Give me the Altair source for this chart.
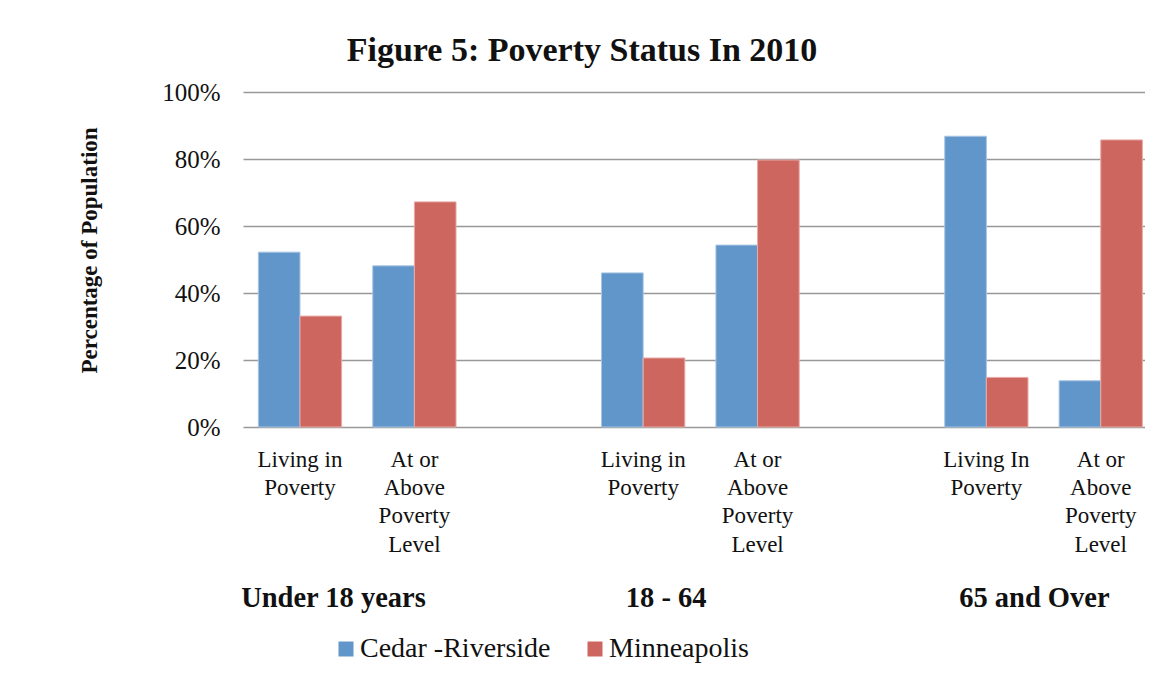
import altair as alt
import pandas as pd

# Slots along the x axis (prefix keeps them unique; empty slots separate the groups)
slots = [
    "a:Living in|Poverty",
    "b:At or|Above|Poverty|Level",
    "c:",
    "d:Living in|Poverty",
    "e:At or|Above|Poverty|Level",
    "f:",
    "g:Living In|Poverty",
    "h:At or|Above|Poverty|Level",
]
bar_slots = [slots[0], slots[1], slots[3], slots[4], slots[6], slots[7]]
series = ["Cedar -Riverside", "Minneapolis"]
cedar = [0.522, 0.481, 0.460, 0.543, 0.868, 0.138]
minneapolis = [0.331, 0.672, 0.206, 0.797, 0.148, 0.857]
groups = ["Under 18 years", "18 - 64", "65 and Over"]
group_slots = [slots[0], slots[3], slots[6]]
group_dx = [33.5, 23, 48]
y_ticks = [0, 0.2, 0.4, 0.6, 0.8, 1.0]
colors = ["#6096C9", "#CC665F"]
edge_colors = ["#A9C4E4", "#E8ABA6"]

rows = []
for s, v in zip(bar_slots, cedar):
    rows.append({"slot": s, "series": series[0], "value": v})
for s, v in zip(bar_slots, minneapolis):
    rows.append({"slot": s, "series": series[1], "value": v})
df = pd.DataFrame(rows)

FONT = "Liberation Serif"
W, H = 902, 335

x_scale = alt.Scale(domain=slots, paddingInner=0.272, paddingOuter=0.0785, align=0.855, round=False)
x_axis = alt.Axis(
    title=None,
    labelExpr="split(slice(datum.value, 2), '|')",
    labelFont=FONT,
    labelFontSize=23,
    labelColor="#111",
    labelLineHeight=28.4,
    labelPadding=21,
    labelAngle=0,
    labelLimit=0,
    ticks=False,
    domain=False,
    grid=False,
)

bars = alt.Chart(df).mark_bar(strokeWidth=1).encode(
    x=alt.X("slot:N", scale=x_scale, axis=x_axis),
    xOffset=alt.XOffset("series:N", scale=alt.Scale(domain=series, paddingInner=0, paddingOuter=0)),
    y=alt.Y(
        "value:Q",
        scale=alt.Scale(domain=[0, 1], nice=False),
        axis=alt.Axis(
            title="Percentage of Population",
            titleFont=FONT,
            titleFontSize=23,
            titleFontWeight="bold",
            titleColor="#111",
            titleX=-142,
            titleY=158,
            format="%",
            values=y_ticks,
            labelFont=FONT,
            labelFontSize=25,
            labelColor="#111",
            labelPadding=23,
            ticks=False,
            domain=False,
            grid=True,
            gridColor="#999999",
            gridWidth=1.6,
        ),
    ),
    color=alt.Color(
        "series:N",
        scale=alt.Scale(domain=series, range=colors),
        legend=alt.Legend(
            title=None,
            orient="none",
            legendX=89,
            legendY=543,
            direction="horizontal",
            symbolType="square",
            symbolSize=225,
            symbolStrokeWidth=0,
            labelFont=FONT,
            labelFontSize=28,
            labelColor="#111",
            labelOffset=0,
            columnPadding=30,
            labelLimit=0,
        ),
    ),
    stroke=alt.Stroke("series:N", scale=alt.Scale(domain=series, range=edge_colors), legend=None),
)

texts = []
for g, s, d in zip(groups, group_slots, group_dx):
    t = alt.Chart(pd.DataFrame({"slot": [s], "label": [g]})).mark_text(
        dx=d, font=FONT, fontSize=28.5, fontWeight="bold", color="#111",
        align="center", baseline="middle",
    ).encode(
        x=alt.X("slot:N", scale=x_scale, axis=x_axis),
        y=alt.value(H + 171),
        text="label:N",
    )
    texts.append(t)

chart = alt.layer(bars, *texts).properties(
    width=W,
    height=H,
    autosize=alt.AutoSizeParams(type="none"),
    padding={"left": 235, "top": 84, "right": 0, "bottom": 236},
    title=alt.TitleParams(
        "Figure 5: Poverty Status In 2010",
        font=FONT, fontSize=34, fontWeight="bold", color="#111",
        anchor="middle", dx=-116 + (910 - W) / 2, offset=12,
    ),
).configure_view(stroke=None)

chart.save("out.html", embed_options={"renderer": "svg", "actions": False})
